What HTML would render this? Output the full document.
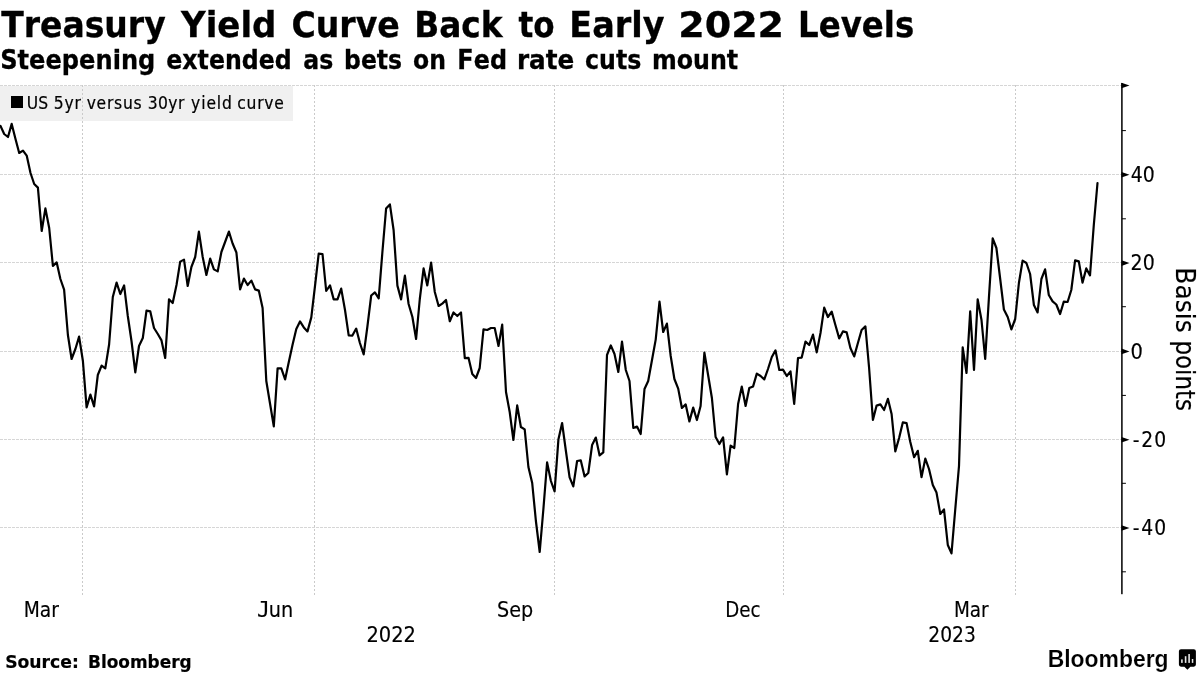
<!DOCTYPE html>
<html lang="en">
<head>
<meta charset="utf-8">
<title>Treasury Yield Curve Back to Early 2022 Levels</title>
<style>
html,body{margin:0;padding:0;background:#fff;}
body{width:1200px;height:675px;overflow:hidden;position:relative;font-family:"DejaVu Sans","Liberation Sans",sans-serif;}
svg{position:absolute;left:0;top:0;display:block;}
text{fill:#000;white-space:pre;}
.title{font:bold 34.8px "DejaVu Sans","Liberation Sans",sans-serif;}
.sub{font:bold 26.2px "DejaVu Sans","Liberation Sans",sans-serif;}
.leg{font:17.3px "DejaVu Sans Condensed","DejaVu Sans","Liberation Sans",sans-serif;}
.ax{font:21px "DejaVu Sans Condensed","DejaVu Sans","Liberation Sans",sans-serif;}
.ax.yt{font-size:25.9px;}
.ax.ay{font-size:20.8px;}
.src{font:bold 18px "DejaVu Sans","Liberation Sans",sans-serif;}
.logo{font:bold 24.6px "Liberation Sans",sans-serif;stroke:#fff;stroke-width:0.15px;}
svg text,svg tspan,.title,.sub,.leg,.ax,.src,.logo{font-kerning:none;}
.title,.sub{stroke:#000;stroke-width:0.3px;}
.src{stroke:#000;stroke-width:0.2px;}
.leg{stroke:#000;stroke-width:0.2px;}
.ax{stroke:#000;stroke-width:0.15px;}
.jun{position:absolute;left:256.5px;top:597.6px;margin:0;font:21px/24px "DejaVu Sans Condensed","DejaVu Sans","Liberation Sans",sans-serif;white-space:nowrap;color:#000;font-kerning:none;-webkit-text-stroke:0.15px #000;transform-origin:0 0;transform:scaleX(1.02);}
.jun::first-letter{font-family:"DejaVu Sans Mono","Liberation Mono",monospace;margin-right:-1.2px;}
.grid line{stroke-width:1;shape-rendering:crispEdges;}
.grid .h{stroke:#d6d6d6;stroke-dasharray:3 1;stroke-dashoffset:0.5;}
.grid .v{stroke:#cacaca;stroke-dasharray:2 2;}
</style>
</head>
<body>
<svg width="1200" height="675" viewBox="0 0 1200 675">
<rect x="0" y="0" width="1200" height="675" fill="#fff"/>
<rect x="0" y="86" width="293" height="35" fill="#f0f0f0"/>
<g class="grid">
<line class="h" x1="0" y1="85.5" x2="1121.9" y2="85.5"/>
<line class="h" x1="0" y1="174.5" x2="1121.9" y2="174.5"/>
<line class="h" x1="0" y1="262.5" x2="1121.9" y2="262.5"/>
<line class="h" x1="0" y1="351.5" x2="1121.9" y2="351.5"/>
<line class="h" x1="0" y1="439.5" x2="1121.9" y2="439.5"/>
<line class="h" x1="0" y1="527.5" x2="1121.9" y2="527.5"/>
<line class="v" x1="82.5" y1="85" x2="82.5" y2="596.5"/>
<line class="v" x1="314.5" y1="85" x2="314.5" y2="596.5"/>
<line class="v" x1="554.5" y1="85" x2="554.5" y2="596.5"/>
<line class="v" x1="783.5" y1="85" x2="783.5" y2="596.5"/>
<line class="v" x1="1015.5" y1="85" x2="1015.5" y2="596.5"/>
</g>
<rect x="11" y="96" width="12" height="12" fill="#000"/>
<polyline fill="none" stroke="#000" stroke-width="2.2" stroke-linejoin="round" stroke-linecap="round" points="0.5,126.0 4.2,134.0 8.0,137.0 11.7,123.9 15.5,139.0 19.2,153.0 23.0,150.6 26.7,155.6 30.5,173.0 34.2,184.0 37.9,187.6 41.7,231.0 45.4,208.4 49.2,228.0 52.9,266.0 56.7,262.4 60.4,279.0 64.1,289.6 67.9,335.0 71.6,359.0 75.4,349.0 79.1,336.6 82.9,361.0 86.6,407.4 90.4,394.6 94.1,406.4 97.8,375.0 101.6,365.6 105.3,368.4 109.1,344.5 112.8,297.0 116.6,282.6 120.3,294.0 124.1,285.4 127.8,316.0 131.5,341.0 135.3,372.4 139.0,346.0 142.8,338.0 146.5,310.6 150.3,311.4 154.0,328.0 157.8,334.0 161.5,340.4 165.2,358.0 169.0,299.4 172.7,303.0 176.5,285.0 180.2,261.6 184.0,259.6 187.7,286.0 191.4,267.0 195.2,257.0 198.9,231.6 202.7,257.0 206.4,275.0 210.2,258.6 213.9,269.4 217.7,271.4 221.4,252.0 225.1,242.0 228.9,231.6 232.6,243.5 236.4,252.5 240.1,289.4 243.9,278.6 247.6,285.0 251.4,280.6 255.1,289.4 258.8,290.6 262.6,308.0 266.3,381.0 270.1,404.0 273.8,426.4 277.6,368.4 281.3,368.4 285.1,379.4 288.8,362.0 292.5,345.0 296.3,329.0 300.0,321.4 303.8,327.4 307.5,331.4 311.3,317.4 315.0,286.0 318.7,253.6 322.5,254.0 326.2,291.0 330.0,285.4 333.7,299.4 337.5,299.4 341.2,288.6 345.0,310.0 348.7,335.4 352.4,335.6 356.2,328.6 359.9,343.0 363.7,354.4 367.4,326.5 371.2,295.5 374.9,292.4 378.7,298.4 382.4,252.0 386.1,208.6 389.9,204.4 393.6,230.0 397.4,285.6 401.1,299.4 404.9,275.6 408.6,304.0 412.4,317.0 416.1,339.0 419.8,299.0 423.6,268.4 427.3,285.4 431.1,262.6 434.8,292.0 438.6,306.0 442.3,303.6 446.0,300.0 449.8,321.2 453.5,312.5 457.3,316.0 461.0,312.5 464.8,358.2 468.5,357.8 472.3,374.0 476.0,378.0 479.7,368.0 483.5,329.4 487.2,330.0 491.0,328.0 494.7,328.0 498.5,346.0 502.2,324.6 506.0,392.0 509.7,412.0 513.4,440.0 517.2,405.4 520.9,427.0 524.7,429.4 528.4,467.0 532.2,483.0 535.9,521.0 539.7,552.0 543.4,509.0 547.1,462.4 550.9,481.0 554.6,491.4 558.4,439.6 562.1,423.0 565.9,451.0 569.6,477.4 573.3,486.4 577.1,461.0 580.8,460.4 584.6,476.4 588.3,473.0 592.1,445.0 595.8,437.6 599.6,455.4 603.3,452.4 607.0,355.0 610.8,345.4 614.5,354.0 618.3,372.0 622.0,341.6 625.8,370.0 629.5,381.0 633.3,428.0 637.0,426.6 640.7,434.0 644.5,389.0 648.2,381.0 652.0,360.0 655.7,339.6 659.5,301.6 663.2,332.0 666.9,323.6 670.7,356.0 674.4,379.0 678.2,388.6 681.9,408.0 685.7,404.4 689.4,421.4 693.2,407.6 696.9,420.0 700.6,406.0 704.4,352.6 708.1,375.0 711.9,398.0 715.6,437.0 719.4,444.0 723.1,437.4 726.9,474.4 730.6,445.6 734.3,448.0 738.1,404.0 741.8,386.6 745.6,406.0 749.3,388.0 753.1,386.4 756.8,373.6 760.6,376.0 764.3,379.4 768.0,369.0 771.8,357.0 775.5,350.4 779.3,370.0 783.0,369.6 786.8,376.0 790.5,371.4 794.2,404.0 798.0,358.0 801.7,357.6 805.5,341.6 809.2,345.0 813.0,334.6 816.7,352.4 820.5,333.0 824.2,307.6 827.9,317.0 831.7,311.6 835.4,325.0 839.2,338.4 842.9,331.4 846.7,332.4 850.4,348.0 854.2,356.4 857.9,343.0 861.6,330.0 865.4,326.4 869.1,368.0 872.9,420.0 876.6,405.6 880.4,404.4 884.1,410.0 887.9,398.8 891.6,414.0 895.3,451.4 899.1,438.0 902.8,422.4 906.6,423.2 910.3,442.0 914.1,457.2 917.8,450.8 921.5,477.2 925.3,458.6 929.0,469.0 932.8,485.0 936.5,492.6 940.3,514.0 944.0,509.4 947.8,545.0 951.5,553.4 955.2,510.0 959.0,466.0 962.7,347.4 966.5,373.0 970.2,311.4 974.0,370.0 977.7,299.4 981.5,320.0 985.2,359.0 988.9,298.0 992.7,238.4 996.4,248.0 1000.2,279.0 1003.9,309.5 1007.7,317.0 1011.4,329.4 1015.2,319.0 1018.9,283.0 1022.6,260.6 1026.4,263.0 1030.1,274.0 1033.9,305.0 1037.6,312.4 1041.4,279.0 1045.1,269.4 1048.8,295.0 1052.6,301.4 1056.3,304.5 1060.1,314.0 1063.8,301.6 1067.6,302.0 1071.3,290.0 1075.1,260.4 1078.8,261.4 1082.5,282.6 1086.3,268.4 1090.0,275.4 1093.8,225.0 1097.5,183.0"/>
<rect x="1121.15" y="83" width="1.5" height="511.2" fill="#000"/>
<g fill="#000">
<path d="M1121.5,82.7 L1129.5,85.5 L1121.5,88.3 Z"/>
<path d="M1121.5,172.0 L1129.5,174.8 L1121.5,177.6 Z"/>
<path d="M1121.5,260.3 L1129.5,263.1 L1121.5,265.9 Z"/>
<path d="M1121.5,348.6 L1129.5,351.4 L1121.5,354.2 Z"/>
<path d="M1121.5,436.9 L1129.5,439.7 L1121.5,442.5 Z"/>
<path d="M1121.5,525.2 L1129.5,528.0 L1121.5,530.8 Z"/>
<rect x="1121.9" y="130.1" width="4" height="1"/>
<rect x="1121.9" y="218.3" width="4" height="1"/>
<rect x="1121.9" y="306.2" width="4" height="1"/>
<rect x="1121.9" y="394.9" width="4" height="1"/>
<rect x="1121.9" y="482.8" width="4" height="1"/>
<rect x="1121.9" y="571.3" width="4" height="1"/>
</g>
<text class="title" y="36.7"><tspan x="1.20" textLength="164.51" lengthAdjust="spacingAndGlyphs">Treasury</tspan> <tspan x="180.99" textLength="95.42" lengthAdjust="spacingAndGlyphs">Yield</tspan> <tspan x="291.42" textLength="108.40" lengthAdjust="spacingAndGlyphs">Curve</tspan> <tspan x="414.17" textLength="88.48" lengthAdjust="spacingAndGlyphs">Back</tspan> <tspan x="518.50" textLength="36.17" lengthAdjust="spacingAndGlyphs">to</tspan> <tspan x="569.32" textLength="95.18" lengthAdjust="spacingAndGlyphs">Early</tspan> <tspan x="678.19" textLength="105.93" lengthAdjust="spacingAndGlyphs">2022</tspan> <tspan x="798.11" textLength="116.06" lengthAdjust="spacingAndGlyphs">Levels</tspan></text>
<text class="sub" y="69.0"><tspan x="0.20" textLength="155.16" lengthAdjust="spacingAndGlyphs">Steepening</tspan> <tspan x="166.30" textLength="125.35" lengthAdjust="spacingAndGlyphs">extended</tspan> <tspan x="303.30" textLength="30.00" lengthAdjust="spacingAndGlyphs">as</tspan> <tspan x="344.11" textLength="57.99" lengthAdjust="spacingAndGlyphs">bets</tspan> <tspan x="413.00" textLength="32.87" lengthAdjust="spacingAndGlyphs">on</tspan> <tspan x="457.37" textLength="49.65" lengthAdjust="spacingAndGlyphs">Fed</tspan> <tspan x="516.92" textLength="57.29" lengthAdjust="spacingAndGlyphs">rate</tspan> <tspan x="585.00" textLength="56.32" lengthAdjust="spacingAndGlyphs">cuts</tspan> <tspan x="651.88" textLength="86.33" lengthAdjust="spacingAndGlyphs">mount</tspan></text>
<text class="leg" y="108.5"><tspan x="26.70" style="letter-spacing:0.169px">US</tspan> <tspan x="53.70" style="letter-spacing:0.808px">5yr</tspan> <tspan x="86.67" style="letter-spacing:0.751px">versus</tspan> <tspan x="147.70" style="letter-spacing:0.405px">30yr</tspan> <tspan x="191.06" style="letter-spacing:0.911px">yield</tspan> <tspan x="237.28" style="letter-spacing:0.755px">curve</tspan></text>
<text class="ax ay" y="182.4"><tspan x="1130.69" textLength="24.03" lengthAdjust="spacingAndGlyphs">40</tspan></text>
<text class="ax ay" y="269.8"><tspan x="1130.59" textLength="24.14" lengthAdjust="spacingAndGlyphs">20</tspan></text>
<text class="ax ay" y="358.5"><tspan x="1130.56" textLength="12.38" lengthAdjust="spacingAndGlyphs">0</tspan></text>
<text class="ax ay" y="447.1"><tspan x="1132.7 1141.2 1154.3">-20</tspan></text>
<text class="ax ay" y="534.8"><tspan x="1132.7 1141.2 1154.3">-40</tspan></text>
<text class="ax" y="616.8"><tspan x="23.67" textLength="35.20" lengthAdjust="spacingAndGlyphs">Mar</tspan></text>
<text class="ax" y="616.8"><tspan x="496.99" textLength="36.15" lengthAdjust="spacingAndGlyphs">Sep</tspan></text>
<text class="ax" y="616.8"><tspan x="725.20" textLength="35.38" lengthAdjust="spacingAndGlyphs">Dec</tspan></text>
<text class="ax" y="616.8"><tspan x="953.94" textLength="34.73" lengthAdjust="spacingAndGlyphs">Mar</tspan></text>
<text class="ax" y="642"><tspan x="366.47" textLength="49.54" lengthAdjust="spacingAndGlyphs">2022</tspan></text>
<text class="ax" y="642"><tspan x="928.26" textLength="47.61" lengthAdjust="spacingAndGlyphs">2023</tspan></text>
<text class="src" y="668.2"><tspan x="5.14" textLength="73.69" lengthAdjust="spacingAndGlyphs">Source:</tspan> <tspan x="88.04" textLength="103.62" lengthAdjust="spacingAndGlyphs">Bloomberg</tspan></text>
<text class="logo" y="666.5"><tspan x="1047.67" textLength="120.92" lengthAdjust="spacingAndGlyphs">Bloomberg</tspan></text>
<text class="ax yt" y="0" transform="translate(1175.8,0) rotate(90)"><tspan x="267.26" textLength="65.42" lengthAdjust="spacingAndGlyphs">Basis</tspan> <tspan x="340.43" textLength="70.57" lengthAdjust="spacingAndGlyphs">points</tspan></text>
<g>
<path d="M1181,649.2 h12.8 a2.1,2.1 0 0 1 2.1,2.1 v13.3 a2.1,2.1 0 0 1 -2.1,2.1 h-3.4 l-3,3.1 l-3,-3.1 h-3.4 a2.1,2.1 0 0 1 -2.1,-2.1 v-13.3 a2.1,2.1 0 0 1 2.1,-2.1 z" fill="#000"/>
<rect x="1181.1" y="659.4" width="1.6" height="3.5" fill="#e6e6e6"/>
<rect x="1184.8" y="656.2" width="1.6" height="6.7" fill="#e6e6e6"/>
<rect x="1188.3" y="654" width="1.6" height="8.9" fill="#e6e6e6"/>
<rect x="1191.8" y="659" width="1.5" height="3.9" fill="#e6e6e6"/>
</g>
</svg>
<div class="jun">Jun</div>
</body>
</html>
